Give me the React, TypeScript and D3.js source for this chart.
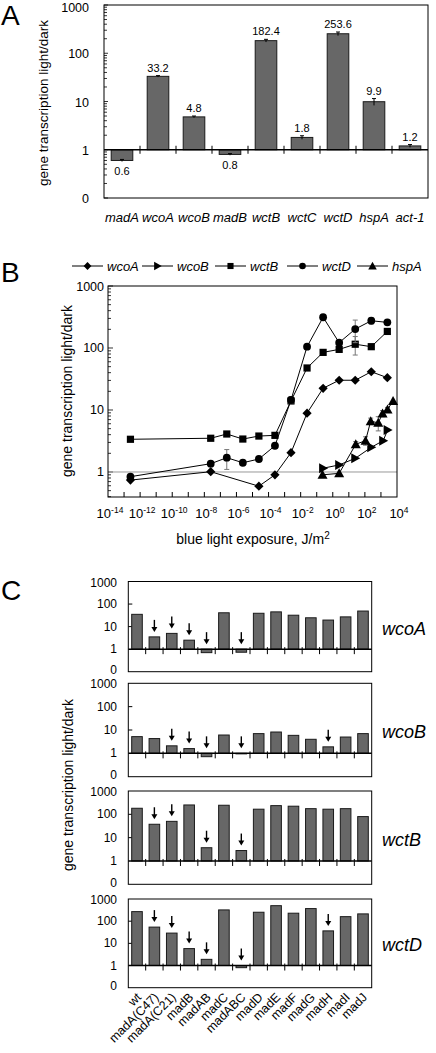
import React from 'react';
import * as d3 from 'd3';

const FONT = '"Liberation Sans", Arial, Helvetica, sans-serif';

// ---------- Panel A data ----------
const genesA = ['madA', 'wcoA', 'wcoB', 'madB', 'wctB', 'wctC', 'wctD', 'hspA', 'act-1'];
const valuesA = [0.6, 33.2, 4.8, 0.8, 182.4, 1.8, 253.6, 9.9, 1.2];
const errorsA = [0.03, 1.2, 0.2, 0.03, 12, 0.15, 22, 1.6, 0.08];
const labelsA = ['0.6', '33.2', '4.8', '0.8', '182.4', '1.8', '253.6', '9.9', '1.2'];
const yTicksLog = [1000, 100, 10, 1, 0.1];
const yTickLabelsLog = ['1000', '100', '10', '1', '0'];

// ---------- Panel B data ----------
const exposureMain = [2.5e-13, 2.5e-8, 2.5e-7, 2.5e-6, 2.5e-5, 2.5e-4, 2.5e-3, 2.5e-2, 2.5e-1, 2.5, 25, 250, 2500];
const wctBValues = [3.37, 3.5, 4.1, 3.4, 3.8, 3.9, 14, 47.6, 85, 95, 115, 105, 185];
const wctBErr = [0, 0, 0, 0, 0, 0, 1.5, 0, 0, 0, 38, 0, 0];
const wctDValues = [0.84, 1.36, 1.7, 1.41, 1.62, 2.65, 14.5, 105, 313, 122, 202, 275, 259];
const wctDErr = [0, 0, 0.6, 0, 0, 0, 2, 0, 0, 0, 80, 30, 0];
const wcoAExposure = [2.5e-13, 2.5e-8, 2.5e-5, 2.5e-4, 2.5e-3, 2.5e-2, 2.5e-1, 2.5, 25, 250, 2500];
const wcoAValues = [0.74, 1.01, 0.59, 0.9, 2.05, 8.9, 22.4, 30.2, 30.2, 41.4, 33.2];
const wcoAErr = [0, 0, 0, 0, 0, 0, 0, 0, 0, 0, 0];
const wcoBExposure = [0.25, 2.5, 25, 250, 1380, 2600];
const wcoBValues = [1.15, 1.3, 1.66, 2.5, 3.2, 4.75];
const wcoBErr = [0, 0, 0, 0, 0, 0];
const hspAExposure = [0.23, 2.5, 27, 110, 230, 680, 1260, 2570, 5700];
const hspAValues = [0.9, 0.95, 2.8, 3.2, 6.6, 6.2, 8.8, 10.2, 14];
const hspAErr = [0, 0, 0.3, 0.5, 0.8, 1.6, 1, 0.8, 0];
const xTickPowers = [-14, -12, -10, -8, -6, -4, -2, 0, 2, 4];

// ---------- Panel C data ----------
const strainsC = ['wt', 'madA(C47)', 'madA(C21)', 'madB', 'madAB', 'madC', 'madABC', 'madD', 'madE', 'madF', 'madG', 'madH', 'madI', 'madJ'];
const wcoAC = [35, 3.5, 5.0, 2.5, 0.7, 41, 0.73, 39, 45, 32, 24.6, 19.5, 27, 49];
const wcoBC = [5.2, 4.3, 2.1, 1.6, 0.72, 6.1, 0.95, 7.0, 8.2, 5.9, 4.0, 1.9, 5.0, 7.0];
const wctBC = [182, 37.5, 50, 252, 3.7, 245, 2.8, 166, 236, 223, 175, 166, 175, 80];
const wctDC = [270, 54, 29, 5.8, 1.9, 322, 0.8, 253, 500, 229, 370, 36.5, 160, 213];
const arrowsWcoA = ['madA(C47)', 'madA(C21)', 'madB', 'madAB', 'madABC'];
const arrowsWcoB = ['madA(C21)', 'madB', 'madAB', 'madABC', 'madH'];
const arrowsWctB = ['madA(C47)', 'madA(C21)', 'madAB', 'madABC'];
const arrowsWctD = ['madA(C47)', 'madA(C21)', 'madB', 'madAB', 'madABC', 'madH'];
const genesC = ['wcoA', 'wcoB', 'wctB', 'wctD'];
const seriesC = [wcoAC, wcoBC, wctBC, wctDC];
const arrowsC = [arrowsWcoA, arrowsWcoB, arrowsWctB, arrowsWctD];

const BAR_FILL = '#676767';
const BAR_STROKE = '#1a1a1a';

function minorTicks(lo: number, hi: number) {
  const out: number[] = [];
  for (let d = lo; d < hi; d *= 10) {
    for (let k = 2; k <= 9; k++) {
      const v = k * d;
      if (v < hi) out.push(v);
    }
  }
  return out;
}

function PanelA() {
  const x = d3.scaleBand<string>().domain(genesA).range([104, 428]);
  const y = d3.scaleLog().domain([0.1, 1000]).range([198, 5]);
  const bw = x.bandwidth() * 0.6;
  const y1 = y(1);
  return (
    <g>
      <text x={1} y={25} fontSize={28}>A</text>
      <text transform={`translate(48,103) rotate(-90)`} textAnchor="middle" fontSize={13.5}>gene transcription light/dark</text>
      {yTicksLog.map((t, i) => (
        <text key={t} x={89} y={Math.max(y(t) + 5, 12)} textAnchor="end" fontSize={12.5}>{yTickLabelsLog[i]}</text>
      ))}
      {minorTicks(0.1, 1000).map((t) => (
        <line key={t} x1={104} x2={107} y1={y(t)} y2={y(t)} stroke="#000" strokeWidth={0.8} />
      ))}
      {yTicksLog.map((t) => (
        <line key={'M' + t} x1={104} x2={108} y1={y(t)} y2={y(t)} stroke="#000" strokeWidth={0.8} />
      ))}
      {genesA.map((g, i) => {
        const v = valuesA[i];
        const cx = x(g)! + x.bandwidth() / 2;
        const top = Math.min(y(v), y1);
        const bot = Math.max(y(v), y1);
        const e = errorsA[i];
        const yHi = y(v + e);
        const yLo = y(Math.max(v - e, 0.11));
        return (
          <g key={g}>
            <rect x={cx - bw / 2} y={top} width={bw} height={bot - top} fill={BAR_FILL} stroke={BAR_STROKE} strokeWidth={1} />
            <line x1={cx} x2={cx} y1={yHi} y2={yLo} stroke="#000" strokeWidth={1} />
            <line x1={cx - 2} x2={cx + 2} y1={yHi} y2={yHi} stroke="#000" strokeWidth={1} />
            <text x={cx} y={v >= 1 ? Math.min(yHi, top) - 4 : bot + 15} textAnchor="middle" fontSize={11}>{labelsA[i]}</text>
            <text x={cx} y={222} textAnchor="middle" fontSize={13} fontStyle="italic">{g}</text>
          </g>
        );
      })}
      <line x1={104} x2={428} y1={y1} y2={y1} stroke="#000" strokeWidth={1.3} />
      {genesA.slice(1).map((g) => (
        <line key={'t' + g} x1={x(g)!} x2={x(g)!} y1={y1 - 4} y2={y1 + 4} stroke="#000" strokeWidth={1} />
      ))}
      <rect x={104} y={5} width={324} height={193} fill="none" stroke="#000" strokeWidth={1} />
    </g>
  );
}

type MarkerType = 'diamond' | 'triRight' | 'square' | 'circle' | 'triUp';

function Marker({ type, x, y, s = 1 }: { type: MarkerType; x: number; y: number; s?: number }) {
  if (type === 'diamond') {
    const r = 4.6 * s;
    return <polygon points={`${x},${y - r} ${x + r},${y} ${x},${y + r} ${x - r},${y}`} fill="#000" />;
  }
  if (type === 'triRight') {
    const r = 5 * s;
    return <polygon points={`${x - r * 0.8},${y - r} ${x + r},${y} ${x - r * 0.8},${y + r}`} fill="#000" />;
  }
  if (type === 'square') {
    const r = 3.6 * s;
    return <rect x={x - r} y={y - r} width={2 * r} height={2 * r} fill="#000" />;
  }
  if (type === 'circle') {
    return <circle cx={x} cy={y} r={3.9 * s} fill="#000" />;
  }
  const r = 5 * s;
  return <polygon points={`${x},${y - r} ${x + r},${y + r * 0.8} ${x - r},${y + r * 0.8}`} fill="#000" />;
}

const seriesB: { name: string; type: MarkerType; xs: number[]; ys: number[]; err: number[] }[] = [
  { name: 'wcoA', type: 'diamond', xs: wcoAExposure, ys: wcoAValues, err: wcoAErr },
  { name: 'wcoB', type: 'triRight', xs: wcoBExposure, ys: wcoBValues, err: wcoBErr },
  { name: 'wctB', type: 'square', xs: exposureMain, ys: wctBValues, err: wctBErr },
  { name: 'wctD', type: 'circle', xs: exposureMain, ys: wctDValues, err: wctDErr },
  { name: 'hspA', type: 'triUp', xs: hspAExposure, ys: hspAValues, err: hspAErr },
];
const legendStartsB = [72, 142, 215, 287, 357];

function PanelB() {
  const x = d3.scaleLog().domain([1e-14, 1e4]).range([108, 397]);
  const y = d3.scaleLog().domain([0.395, 1000]).range([497, 286]);
  const line = d3.line<[number, number]>().x((d) => x(d[0])).y((d) => y(d[1]));
  const majorY = [1, 10, 100, 1000];
  return (
    <g>
      <text x={1} y={282} fontSize={28}>B</text>
      {seriesB.map((s, i) => {
        const sx = legendStartsB[i];
        return (
          <g key={'lg' + s.name}>
            <line x1={sx} x2={sx + 31} y1={266} y2={266} stroke="#000" strokeWidth={1} />
            <Marker type={s.type} x={sx + 15.5} y={266} s={0.85} />
            <text x={sx + 35} y={271} fontSize={13} fontStyle="italic">{s.name}</text>
          </g>
        );
      })}
      <text transform={`translate(72,391) rotate(-90)`} textAnchor="middle" fontSize={14}>gene transcription light/dark</text>
      {majorY.map((t) => (
        <text key={t} x={104} y={y(t) + 4.5} textAnchor="end" fontSize={12.5}>{String(t)}</text>
      ))}
      {minorTicks(0.1, 1000).filter((t) => t >= 0.395).map((t) => (
        <line key={'m' + t} x1={108} x2={111} y1={y(t)} y2={y(t)} stroke="#000" strokeWidth={0.8} />
      ))}
      {majorY.map((t) => (
        <line key={'M' + t} x1={108} x2={113} y1={y(t)} y2={y(t)} stroke="#000" strokeWidth={0.8} />
      ))}
      {d3.range(-13, 4).map((p) => (
        <line key={'xt' + p} x1={x(10 ** p)} x2={x(10 ** p)} y1={497} y2={492} stroke="#000" strokeWidth={1} />
      ))}
      {xTickPowers.map((p) => (
        <text key={'xl' + p} x={x(10 ** p) + 2} y={518} textAnchor="middle" fontSize={13}>
          10<tspan dy={-5} fontSize={8.5}>{String(p)}</tspan>
        </text>
      ))}
      <text x={253} y={544} textAnchor="middle" fontSize={14}>
        blue light exposure, J/m<tspan dy={-5} fontSize={10}>2</tspan>
      </text>
      <line x1={108} x2={397} y1={y(1)} y2={y(1)} stroke="#999" strokeWidth={1} />
      {seriesB.map((s) => {
        const pts = s.xs.map((xv, i) => [xv, s.ys[i]] as [number, number]);
        return (
          <g key={s.name}>
            {pts.map((p, i) =>
              s.err[i] > 0 ? (
                <g key={'e' + i} stroke="#777" strokeWidth={1}>
                  <line x1={x(p[0])} x2={x(p[0])} y1={y(p[1] + s.err[i])} y2={y(p[1] - s.err[i])} />
                  <line x1={x(p[0]) - 2.5} x2={x(p[0]) + 2.5} y1={y(p[1] + s.err[i])} y2={y(p[1] + s.err[i])} />
                  <line x1={x(p[0]) - 2.5} x2={x(p[0]) + 2.5} y1={y(p[1] - s.err[i])} y2={y(p[1] - s.err[i])} />
                </g>
              ) : null
            )}
            <path d={line(pts) || ''} fill="none" stroke="#000" strokeWidth={1} />
            {pts.map((p, i) => (
              <Marker key={i} type={s.type} x={x(p[0])} y={y(p[1])} />
            ))}
          </g>
        );
      })}
      <rect x={108} y={286} width={289} height={211} fill="none" stroke="#000" strokeWidth={1} />
    </g>
  );
}

const subTops = [581.5, 683.3, 791, 899];
const subBottoms = [671.7, 776.7, 884.3, 987.7];

function PanelC() {
  const x = d3.scaleBand<string>().domain(strainsC).range([128.3, 371.7]);
  const bw = x.bandwidth() * 0.61;
  return (
    <g>
      <text x={1} y={600} fontSize={28}>C</text>
      <text transform={`translate(73,785) rotate(-90)`} textAnchor="middle" fontSize={14}>gene transcription light/dark</text>
      {genesC.map((gene, gi) => {
        const y = d3.scaleLog().domain([0.1, 1000]).range([subBottoms[gi], subTops[gi]]);
        const y1 = y(1);
        const vals = seriesC[gi];
        const arrows = arrowsC[gi];
        return (
          <g key={gene}>
            {yTicksLog.map((t, i) => (
              <text key={t} x={117} y={y(t) + (t === 0.1 ? 2.5 : t === 1000 ? 5 : 4)} textAnchor="end" fontSize={12}>{yTickLabelsLog[i]}</text>
            ))}
            {[100, 10].map((t) => (
              <line key={'yt' + t} x1={128.3} x2={132.3} y1={y(t)} y2={y(t)} stroke="#000" strokeWidth={1} />
            ))}
            {strainsC.map((s, i) => {
              const v = vals[i];
              const cx = x(s)! + x.bandwidth() / 2;
              const top = Math.min(y(v), y1);
              const bot = Math.max(y(v), y1);
              const tip = top - 5;
              return (
                <g key={s}>
                  <rect x={cx - bw / 2} y={top} width={bw} height={bot - top} fill={BAR_FILL} stroke={BAR_STROKE} strokeWidth={1} />
                  {arrows.includes(s) ? (
                    <g>
                      <line x1={cx} x2={cx} y1={tip - 12} y2={tip - 3} stroke="#000" strokeWidth={1.4} />
                      <polygon points={`${cx - 3},${tip - 5} ${cx + 3},${tip - 5} ${cx},${tip}`} fill="#000" />
                    </g>
                  ) : null}
                </g>
              );
            })}
            <line x1={128.3} x2={371.7} y1={y1} y2={y1} stroke="#000" strokeWidth={1.5} />
            {strainsC.slice(1).map((s) => (
              <line key={'t' + s} x1={x(s)!} x2={x(s)!} y1={y1 - 2} y2={y1 + 5} stroke="#000" strokeWidth={1} />
            ))}
            <rect x={128.3} y={subTops[gi]} width={243.4} height={subBottoms[gi] - subTops[gi]} fill="none" stroke="#000" strokeWidth={1} />
            <text x={382} y={y(10) + 8} fontSize={18} fontStyle="italic">{gene}</text>
          </g>
        );
      })}
      {strainsC.map((s) => {
        const cx = x(s)! + x.bandwidth() / 2;
        return (
          <text key={'xl' + s} transform={`translate(${cx + 5},${998}) rotate(-45)`} textAnchor="end" fontSize={12.5}>{s}</text>
        );
      })}
    </g>
  );
}

export default function App() {
  return (
    <svg
      width={436}
      height={1053}
      style={{ position: 'absolute', left: 0, top: 0, display: 'block', background: '#fff' }}
      fontFamily={FONT}
    >
      <rect width={436} height={1053} fill="#fff" />
      <PanelA />
      <PanelB />
      <PanelC />
    </svg>
  );
}
